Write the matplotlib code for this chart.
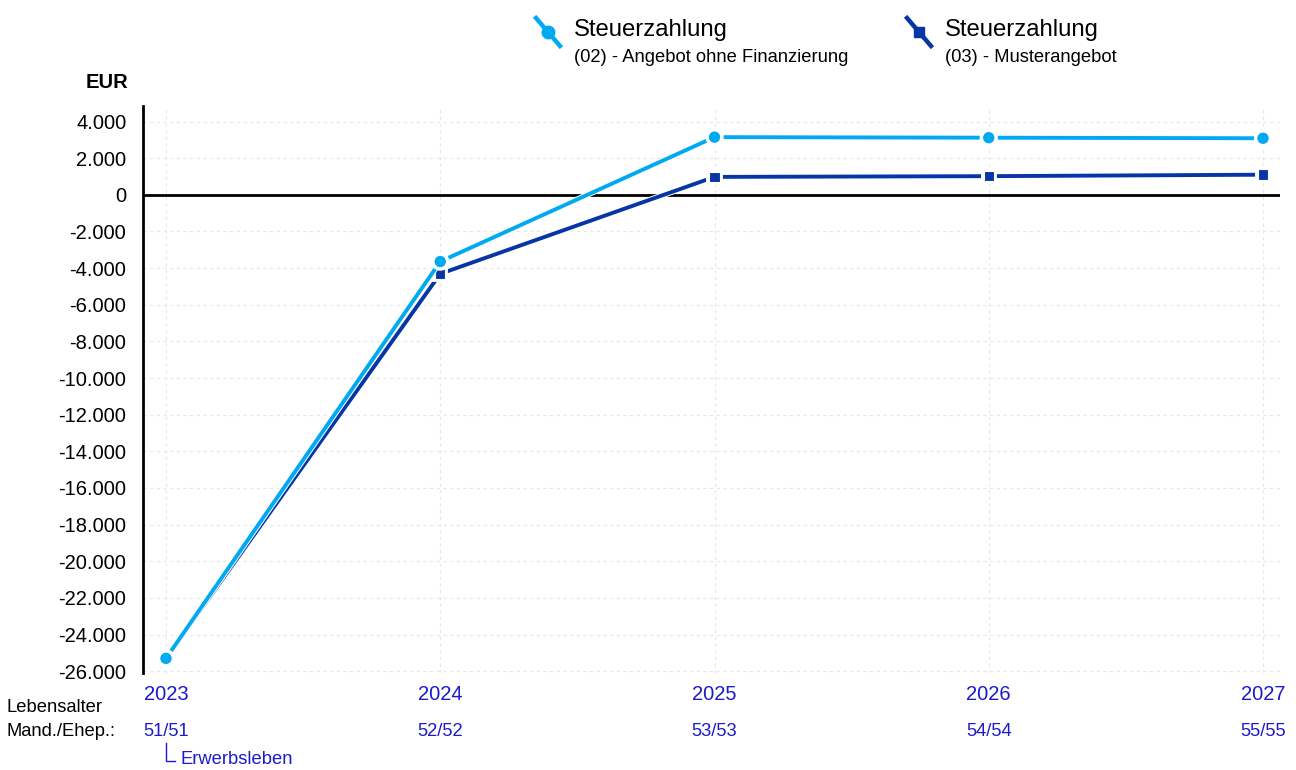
import matplotlib.pyplot as plt
import matplotlib.patheffects as pe
from matplotlib.lines import Line2D
import matplotlib.transforms as mtransforms
from matplotlib.ticker import FuncFormatter

plt.rcParams['font.family'] = ['Liberation Sans', 'DejaVu Sans']

years = [2023, 2024, 2025, 2026, 2027]
ages = ['51/51', '52/52', '53/53', '54/54', '55/55']
steuer_02 = [-25300, -3640, 3150, 3120, 3090]
steuer_03 = [-25300, -4310, 980, 1020, 1100]
yticks = list(range(-26000, 4001, 2000))

light = '#00A9F0'
dark = '#0636A6'
tickblue = '#1B1BCB'

W, H = 1296, 770
fig = plt.figure(figsize=(W / 100, H / 100), dpi=100)


def fx(x):
    return x / W


def fy(y):
    return 1 - y / H


ax = fig.add_axes([fx(143), fy(673), fx(1280) - fx(143), fy(106) - fy(673)])

outline = [pe.Stroke(linewidth=4.2, foreground='white'), pe.Normal()]
ax.plot(years, steuer_03, color=dark, lw=2.8, marker='s', ms=7.5,
        mec='white', mew=0.8, path_effects=outline, zorder=4)
ax.plot(years, steuer_02, color=light, lw=2.8, marker='o', ms=9,
        mec='white', mew=0.8, path_effects=outline, zorder=5)

ax.axhline(0, color='black', lw=2, zorder=3)

ax.set_xlim(2023 - 23 / 274.25, 2027 + 17 / 274.25)
ax.set_ylim(-26100, 4850)
ax.set_yticks(yticks)
ax.yaxis.set_major_formatter(FuncFormatter(lambda v, p: f'{int(v):,}'.replace(',', '.')))
ax.set_xticks(years)
ax.set_xticklabels([str(y) for y in years])
ax.tick_params(axis='y', length=0, pad=12, labelsize=14.5)
ax.tick_params(axis='x', length=0, pad=9, labelsize=14.5, labelcolor=tickblue)

ax.grid(True, color='#E8E8E8', ls=(0, (3, 3)), lw=0.8)
ax.set_axisbelow(True)
for s in ['top', 'right', 'bottom']:
    ax.spines[s].set_visible(False)
ax.spines['left'].set_linewidth(2)

# age row
trans = mtransforms.blended_transform_factory(ax.transData, fig.transFigure)
for yr, ag in zip(years, ages):
    ax.text(yr, fy(731), ag, transform=trans, ha='center', va='center',
            fontsize=13.2, color=tickblue)

fig.text(fx(6), fy(708), 'Lebensalter', ha='left', va='center', fontsize=13.2)
fig.text(fx(6), fy(731), 'Mand./Ehep.:', ha='left', va='center', fontsize=13.2)
fig.text(fx(181), fy(760), 'Erwerbsleben', ha='left', va='center', fontsize=13.2, color=tickblue)
fig.add_artist(Line2D([fx(166), fx(166), fx(175)], [fy(743), fy(761), fy(761)],
                      color=tickblue, lw=1, transform=fig.transFigure))

fig.text(fx(128), fy(82), 'EUR', ha='right', va='center', fontsize=14.5, fontweight='bold')

# legend
for x0, col, mk, ms, title, sub in [
        (536, light, 'o', 9, 'Steuerzahlung', '(02) - Angebot ohne Finanzierung'),
        (907, dark, 's', 7.5, 'Steuerzahlung', '(03) - Musterangebot')]:
    fig.add_artist(Line2D([fx(x0), fx(x0 + 24)], [fy(18), fy(46)], color=col, lw=3.2,
                          transform=fig.transFigure))
    fig.add_artist(Line2D([fx(x0 + 12)], [fy(32)], color=col, marker=mk, ms=ms,
                          transform=fig.transFigure))
    fig.text(fx(x0 + 38), fy(30), title, ha='left', va='center', fontsize=17.2)
    fig.text(fx(x0 + 38), fy(58), sub, ha='left', va='center', fontsize=13.2)

fig.savefig('out.png', dpi=100)
